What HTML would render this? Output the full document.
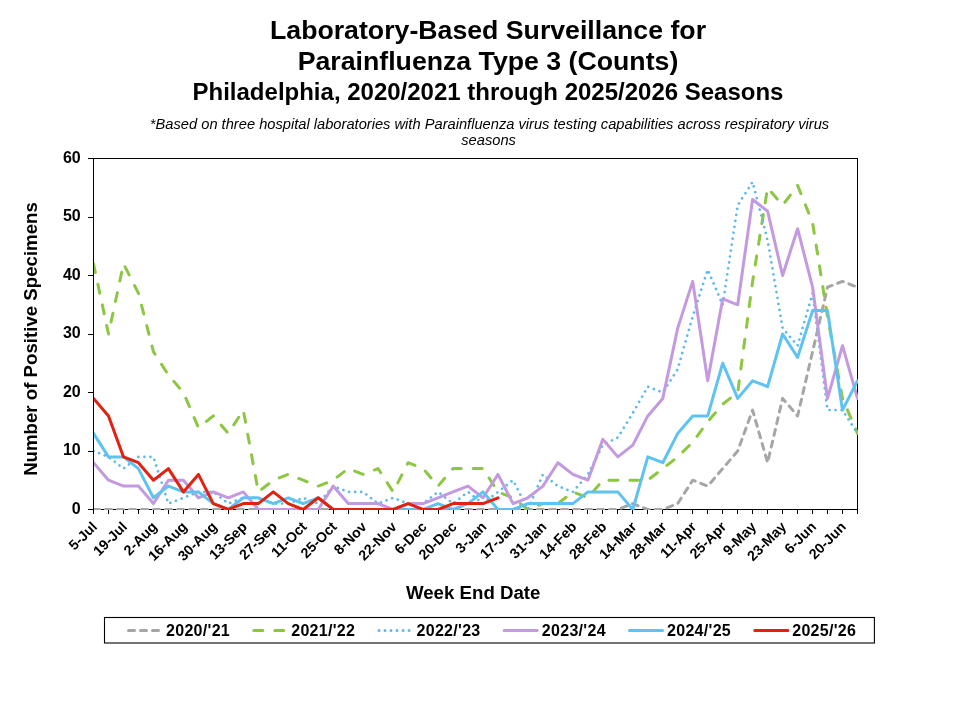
<!DOCTYPE html>
<html lang="en">
<head>
<meta charset="utf-8">
<title>Laboratory-Based Surveillance for Parainfluenza Type 3 (Counts)</title>
<style>
html,body{margin:0;padding:0;background:#fff;}
body{width:960px;height:720px;overflow:hidden;}
svg{display:block;}
svg text{font-family:"Liberation Sans",Arial,Helvetica,sans-serif;fill:#000;}
.b{font-weight:bold;}
.t1{font-size:26.7px;font-weight:bold;}
.t2{font-size:24px;font-weight:bold;}
.sub{font-size:14.68px;font-style:italic;}
.ax{font-size:16px;font-weight:bold;}
.at{font-size:18.67px;font-weight:bold;}
.xl{font-size:14.2px;font-weight:bold;}
.lg{font-size:16px;font-weight:bold;letter-spacing:0.3px;}
</style>
</head>
<body>
<svg width="960" height="720" viewBox="0 0 960 720">
<rect x="0" y="0" width="960" height="720" fill="#ffffff"/>

<text class="t1" x="488" y="38.5" text-anchor="middle">Laboratory-Based Surveillance for</text>
<text class="t1" x="488" y="70.3" text-anchor="middle">Parainfluenza Type 3 (Counts)</text>
<text class="t2" x="488" y="99.6" text-anchor="middle">Philadelphia, 2020/2021 through 2025/2026 Seasons</text>
<text class="sub" x="489.5" y="128.7" text-anchor="middle">*Based on three hospital laboratories with Parainfluenza virus testing capabilities across respiratory virus</text>
<text class="sub" x="488.6" y="144.9" text-anchor="middle">seasons</text>
<g stroke="#000" stroke-width="1" fill="none" shape-rendering="crispEdges">
<rect x="93.5" y="158.5" width="764.0" height="351.0"/>
<line x1="88.0" y1="509.5" x2="93.5" y2="509.5"/>
<line x1="88.0" y1="451.5" x2="93.5" y2="451.5"/>
<line x1="88.0" y1="392.5" x2="93.5" y2="392.5"/>
<line x1="88.0" y1="334.5" x2="93.5" y2="334.5"/>
<line x1="88.0" y1="275.5" x2="93.5" y2="275.5"/>
<line x1="88.0" y1="217.5" x2="93.5" y2="217.5"/>
<line x1="88.0" y1="158.5" x2="93.5" y2="158.5"/>
<line x1="93.5" y1="509.5" x2="93.5" y2="514.0"/>
<line x1="108.5" y1="509.5" x2="108.5" y2="514.0"/>
<line x1="123.5" y1="509.5" x2="123.5" y2="514.0"/>
<line x1="138.5" y1="509.5" x2="138.5" y2="514.0"/>
<line x1="153.5" y1="509.5" x2="153.5" y2="514.0"/>
<line x1="168.5" y1="509.5" x2="168.5" y2="514.0"/>
<line x1="183.5" y1="509.5" x2="183.5" y2="514.0"/>
<line x1="198.5" y1="509.5" x2="198.5" y2="514.0"/>
<line x1="213.5" y1="509.5" x2="213.5" y2="514.0"/>
<line x1="228.5" y1="509.5" x2="228.5" y2="514.0"/>
<line x1="243.5" y1="509.5" x2="243.5" y2="514.0"/>
<line x1="258.5" y1="509.5" x2="258.5" y2="514.0"/>
<line x1="273.5" y1="509.5" x2="273.5" y2="514.0"/>
<line x1="288.5" y1="509.5" x2="288.5" y2="514.0"/>
<line x1="303.5" y1="509.5" x2="303.5" y2="514.0"/>
<line x1="318.5" y1="509.5" x2="318.5" y2="514.0"/>
<line x1="333.5" y1="509.5" x2="333.5" y2="514.0"/>
<line x1="348.5" y1="509.5" x2="348.5" y2="514.0"/>
<line x1="363.5" y1="509.5" x2="363.5" y2="514.0"/>
<line x1="378.5" y1="509.5" x2="378.5" y2="514.0"/>
<line x1="393.5" y1="509.5" x2="393.5" y2="514.0"/>
<line x1="408.5" y1="509.5" x2="408.5" y2="514.0"/>
<line x1="423.5" y1="509.5" x2="423.5" y2="514.0"/>
<line x1="438.5" y1="509.5" x2="438.5" y2="514.0"/>
<line x1="453.5" y1="509.5" x2="453.5" y2="514.0"/>
<line x1="468.5" y1="509.5" x2="468.5" y2="514.0"/>
<line x1="482.5" y1="509.5" x2="482.5" y2="514.0"/>
<line x1="497.5" y1="509.5" x2="497.5" y2="514.0"/>
<line x1="512.5" y1="509.5" x2="512.5" y2="514.0"/>
<line x1="527.5" y1="509.5" x2="527.5" y2="514.0"/>
<line x1="542.5" y1="509.5" x2="542.5" y2="514.0"/>
<line x1="557.5" y1="509.5" x2="557.5" y2="514.0"/>
<line x1="572.5" y1="509.5" x2="572.5" y2="514.0"/>
<line x1="587.5" y1="509.5" x2="587.5" y2="514.0"/>
<line x1="602.5" y1="509.5" x2="602.5" y2="514.0"/>
<line x1="617.5" y1="509.5" x2="617.5" y2="514.0"/>
<line x1="632.5" y1="509.5" x2="632.5" y2="514.0"/>
<line x1="647.5" y1="509.5" x2="647.5" y2="514.0"/>
<line x1="662.5" y1="509.5" x2="662.5" y2="514.0"/>
<line x1="677.5" y1="509.5" x2="677.5" y2="514.0"/>
<line x1="692.5" y1="509.5" x2="692.5" y2="514.0"/>
<line x1="707.5" y1="509.5" x2="707.5" y2="514.0"/>
<line x1="722.5" y1="509.5" x2="722.5" y2="514.0"/>
<line x1="737.5" y1="509.5" x2="737.5" y2="514.0"/>
<line x1="752.5" y1="509.5" x2="752.5" y2="514.0"/>
<line x1="767.5" y1="509.5" x2="767.5" y2="514.0"/>
<line x1="782.5" y1="509.5" x2="782.5" y2="514.0"/>
<line x1="797.5" y1="509.5" x2="797.5" y2="514.0"/>
<line x1="812.5" y1="509.5" x2="812.5" y2="514.0"/>
<line x1="827.5" y1="509.5" x2="827.5" y2="514.0"/>
<line x1="842.5" y1="509.5" x2="842.5" y2="514.0"/>
<line x1="857.5" y1="509.5" x2="857.5" y2="514.0"/>
</g>
<clipPath id="pc"><rect x="94" y="150" width="764" height="360"/></clipPath>
<g clip-path="url(#pc)">
<polyline points="93.5,509.5 108.5,509.5 123.5,509.5 138.4,509.5 153.4,509.5 168.4,509.5 183.4,509.5 198.4,509.5 213.3,509.5 228.3,509.5 243.3,509.5 258.3,509.5 273.3,509.5 288.2,509.5 303.2,509.5 318.2,509.5 333.2,509.5 348.2,509.5 363.1,509.5 378.1,509.5 393.1,509.5 408.1,509.5 423.1,509.5 438.0,509.5 453.0,509.5 468.0,509.5 483.0,509.5 498.0,509.5 513.0,509.5 527.9,509.5 542.9,509.5 557.9,509.5 572.9,509.5 587.9,509.5 602.8,509.5 617.8,509.5 632.8,503.6 647.8,509.5 662.8,509.5 677.7,503.6 692.7,480.2 707.7,486.1 722.7,468.6 737.7,451.0 752.6,410.1 767.6,462.7 782.6,398.4 797.6,415.9 812.6,351.6 827.5,287.2 842.5,281.4 857.5,287.2" fill="none" stroke="#A6A6A6" stroke-width="3" stroke-linecap="round" stroke-linejoin="round" stroke-dasharray="6 6"/>
<polyline points="93.5,263.8 108.5,334.0 123.5,263.8 138.4,293.1 153.4,351.6 168.4,375.0 183.4,392.5 198.4,427.6 213.3,415.9 228.3,433.4 243.3,410.1 258.3,491.9 273.3,480.2 288.2,474.4 303.2,480.2 318.2,486.1 333.2,480.2 348.2,468.6 363.1,474.4 378.1,468.6 393.1,491.9 408.1,462.7 423.1,468.6 438.0,486.1 453.0,468.6 468.0,468.6 483.0,468.6 498.0,491.9 513.0,497.8 527.9,509.5 542.9,503.6 557.9,503.6 572.9,491.9 587.9,497.8 602.8,480.2 617.8,480.2 632.8,480.2 647.8,480.2 662.8,468.6 677.7,456.9 692.7,442.2 707.7,421.8 722.7,404.2 737.7,392.5 752.6,281.4 767.6,187.8 782.6,205.3 797.6,185.4 812.6,222.9 827.5,316.5 842.5,398.4 857.5,433.4" fill="none" stroke="#8DC641" stroke-width="3" stroke-linecap="round" stroke-linejoin="round" stroke-dasharray="9 12"/>
<polyline points="93.5,451.0 108.5,456.9 123.5,468.6 138.4,456.9 153.4,456.9 168.4,503.6 183.4,497.8 198.4,491.9 213.3,491.9 228.3,503.6 243.3,497.8 258.3,497.8 273.3,503.6 288.2,503.6 303.2,497.8 318.2,503.6 333.2,486.1 348.2,491.9 363.1,491.9 378.1,503.6 393.1,497.8 408.1,503.6 423.1,503.6 438.0,491.9 453.0,503.6 468.0,491.9 483.0,503.6 498.0,491.9 513.0,480.2 527.9,509.5 542.9,474.4 557.9,486.1 572.9,491.9 587.9,474.4 602.8,445.1 617.8,437.5 632.8,413.0 647.8,386.6 662.8,392.5 677.7,369.1 692.7,316.5 707.7,269.6 722.7,304.8 737.7,205.3 752.6,181.9 767.6,240.4 782.6,328.1 797.6,345.7 812.6,293.1 827.5,410.1 842.5,410.1 857.5,433.4" fill="none" stroke="#5DB9EA" stroke-width="2.7" stroke-linecap="round" stroke-linejoin="round" stroke-dasharray="0.01 6"/>
<polyline points="93.5,462.7 108.5,480.2 123.5,486.1 138.4,486.1 153.4,503.6 168.4,480.2 183.4,480.2 198.4,497.8 213.3,491.9 228.3,497.8 243.3,491.9 258.3,509.5 273.3,509.5 288.2,509.5 303.2,509.5 318.2,509.5 333.2,486.1 348.2,503.6 363.1,503.6 378.1,503.6 393.1,509.5 408.1,503.6 423.1,503.6 438.0,497.8 453.0,491.9 468.0,486.1 483.0,497.8 498.0,474.4 513.0,503.6 527.9,497.8 542.9,486.1 557.9,462.7 572.9,474.4 587.9,480.2 602.8,439.3 617.8,456.9 632.8,445.1 647.8,415.9 662.8,398.4 677.7,328.1 692.7,281.4 707.7,380.8 722.7,298.9 737.7,304.8 752.6,199.5 767.6,211.2 782.6,275.5 797.6,228.7 812.6,287.2 827.5,398.4 842.5,345.7 857.5,398.4" fill="none" stroke="#C39ADF" stroke-width="3" stroke-linecap="round" stroke-linejoin="round"/>
<polyline points="93.5,433.4 108.5,456.9 123.5,456.9 138.4,468.6 153.4,497.8 168.4,486.1 183.4,491.9 198.4,491.9 213.3,503.6 228.3,509.5 243.3,497.8 258.3,497.8 273.3,503.6 288.2,497.8 303.2,503.6 318.2,497.8 333.2,509.5 348.2,509.5 363.1,509.5 378.1,509.5 393.1,509.5 408.1,509.5 423.1,509.5 438.0,503.6 453.0,509.5 468.0,503.6 483.0,491.9 498.0,509.5 513.0,509.5 527.9,503.6 542.9,503.6 557.9,503.6 572.9,503.6 587.9,491.9 602.8,491.9 617.8,491.9 632.8,509.5 647.8,456.9 662.8,462.7 677.7,433.4 692.7,415.9 707.7,415.9 722.7,363.2 737.7,398.4 752.6,380.8 767.6,386.6 782.6,334.0 797.6,357.4 812.6,310.6 827.5,310.6 842.5,410.1 857.5,380.8" fill="none" stroke="#5FC3F1" stroke-width="3" stroke-linecap="round" stroke-linejoin="round"/>
<polyline points="93.5,398.4 108.5,415.9 123.5,456.9 138.4,462.7 153.4,480.2 168.4,468.6 183.4,491.9 198.4,474.4 213.3,503.6 228.3,509.5 243.3,503.6 258.3,503.6 273.3,491.9 288.2,503.6 303.2,509.5 318.2,497.8 333.2,509.5 348.2,509.5 363.1,509.5 378.1,509.5 393.1,509.5 408.1,503.6 423.1,509.5 438.0,509.5 453.0,503.6 468.0,503.6 483.0,503.6 498.0,497.8" fill="none" stroke="#E32110" stroke-width="3" stroke-linecap="round" stroke-linejoin="round"/>
</g>
<text class="ax" x="80.7" y="513.9" text-anchor="end">0</text>
<text class="ax" x="80.7" y="455.4" text-anchor="end">10</text>
<text class="ax" x="80.7" y="396.9" text-anchor="end">20</text>
<text class="ax" x="80.7" y="338.4" text-anchor="end">30</text>
<text class="ax" x="80.7" y="279.9" text-anchor="end">40</text>
<text class="ax" x="80.7" y="221.4" text-anchor="end">50</text>
<text class="ax" x="80.7" y="162.9" text-anchor="end">60</text>
<text class="xl" text-anchor="end" transform="translate(98.0,527.7) rotate(-45)">5-Jul</text>
<text class="xl" text-anchor="end" transform="translate(128.0,527.7) rotate(-45)">19-Jul</text>
<text class="xl" text-anchor="end" transform="translate(157.9,527.7) rotate(-45)">2-Aug</text>
<text class="xl" text-anchor="end" transform="translate(187.9,527.7) rotate(-45)">16-Aug</text>
<text class="xl" text-anchor="end" transform="translate(217.8,527.7) rotate(-45)">30-Aug</text>
<text class="xl" text-anchor="end" transform="translate(247.8,527.7) rotate(-45)">13-Sep</text>
<text class="xl" text-anchor="end" transform="translate(277.8,527.7) rotate(-45)">27-Sep</text>
<text class="xl" text-anchor="end" transform="translate(307.7,527.7) rotate(-45)">11-Oct</text>
<text class="xl" text-anchor="end" transform="translate(337.7,527.7) rotate(-45)">25-Oct</text>
<text class="xl" text-anchor="end" transform="translate(367.6,527.7) rotate(-45)">8-Nov</text>
<text class="xl" text-anchor="end" transform="translate(397.6,527.7) rotate(-45)">22-Nov</text>
<text class="xl" text-anchor="end" transform="translate(427.6,527.7) rotate(-45)">6-Dec</text>
<text class="xl" text-anchor="end" transform="translate(457.5,527.7) rotate(-45)">20-Dec</text>
<text class="xl" text-anchor="end" transform="translate(487.5,527.7) rotate(-45)">3-Jan</text>
<text class="xl" text-anchor="end" transform="translate(517.5,527.7) rotate(-45)">17-Jan</text>
<text class="xl" text-anchor="end" transform="translate(547.4,527.7) rotate(-45)">31-Jan</text>
<text class="xl" text-anchor="end" transform="translate(577.4,527.7) rotate(-45)">14-Feb</text>
<text class="xl" text-anchor="end" transform="translate(607.3,527.7) rotate(-45)">28-Feb</text>
<text class="xl" text-anchor="end" transform="translate(637.3,527.7) rotate(-45)">14-Mar</text>
<text class="xl" text-anchor="end" transform="translate(667.3,527.7) rotate(-45)">28-Mar</text>
<text class="xl" text-anchor="end" transform="translate(697.2,527.7) rotate(-45)">11-Apr</text>
<text class="xl" text-anchor="end" transform="translate(727.2,527.7) rotate(-45)">25-Apr</text>
<text class="xl" text-anchor="end" transform="translate(757.1,527.7) rotate(-45)">9-May</text>
<text class="xl" text-anchor="end" transform="translate(787.1,527.7) rotate(-45)">23-May</text>
<text class="xl" text-anchor="end" transform="translate(817.1,527.7) rotate(-45)">6-Jun</text>
<text class="xl" text-anchor="end" transform="translate(847.0,527.7) rotate(-45)">20-Jun</text>
<text class="at" text-anchor="middle" transform="translate(37,339) rotate(-90)">Number of Positive Specimens</text>
<text class="at" x="473.2" y="598.5" text-anchor="middle">Week End Date</text>
<rect x="104.5" y="617.5" width="769.9" height="25.5" fill="#fff" stroke="#000" stroke-width="1.1"/>
<line x1="128.5" y1="630.5" x2="161.5" y2="630.5" stroke="#A6A6A6" stroke-width="3" stroke-linecap="round" stroke-dasharray="6 6"/>
<text class="lg" x="166.0" y="636">2020/'21</text>
<line x1="253.8" y1="630.5" x2="286.8" y2="630.5" stroke="#8DC641" stroke-width="3" stroke-linecap="round" stroke-dasharray="9 12"/>
<text class="lg" x="291.2" y="636">2021/'22</text>
<line x1="379.0" y1="630.5" x2="412.0" y2="630.5" stroke="#5DB9EA" stroke-width="3" stroke-linecap="round" stroke-dasharray="0.01 6"/>
<text class="lg" x="416.5" y="636">2022/'23</text>
<line x1="504.2" y1="630.5" x2="537.2" y2="630.5" stroke="#C39ADF" stroke-width="3" stroke-linecap="round"/>
<text class="lg" x="541.8" y="636">2023/'24</text>
<line x1="629.5" y1="630.5" x2="662.5" y2="630.5" stroke="#5FC3F1" stroke-width="3" stroke-linecap="round"/>
<text class="lg" x="667.0" y="636">2024/'25</text>
<line x1="754.8" y1="630.5" x2="787.8" y2="630.5" stroke="#E32110" stroke-width="3" stroke-linecap="round"/>
<text class="lg" x="792.2" y="636">2025/'26</text>
</svg>
</body>
</html>
